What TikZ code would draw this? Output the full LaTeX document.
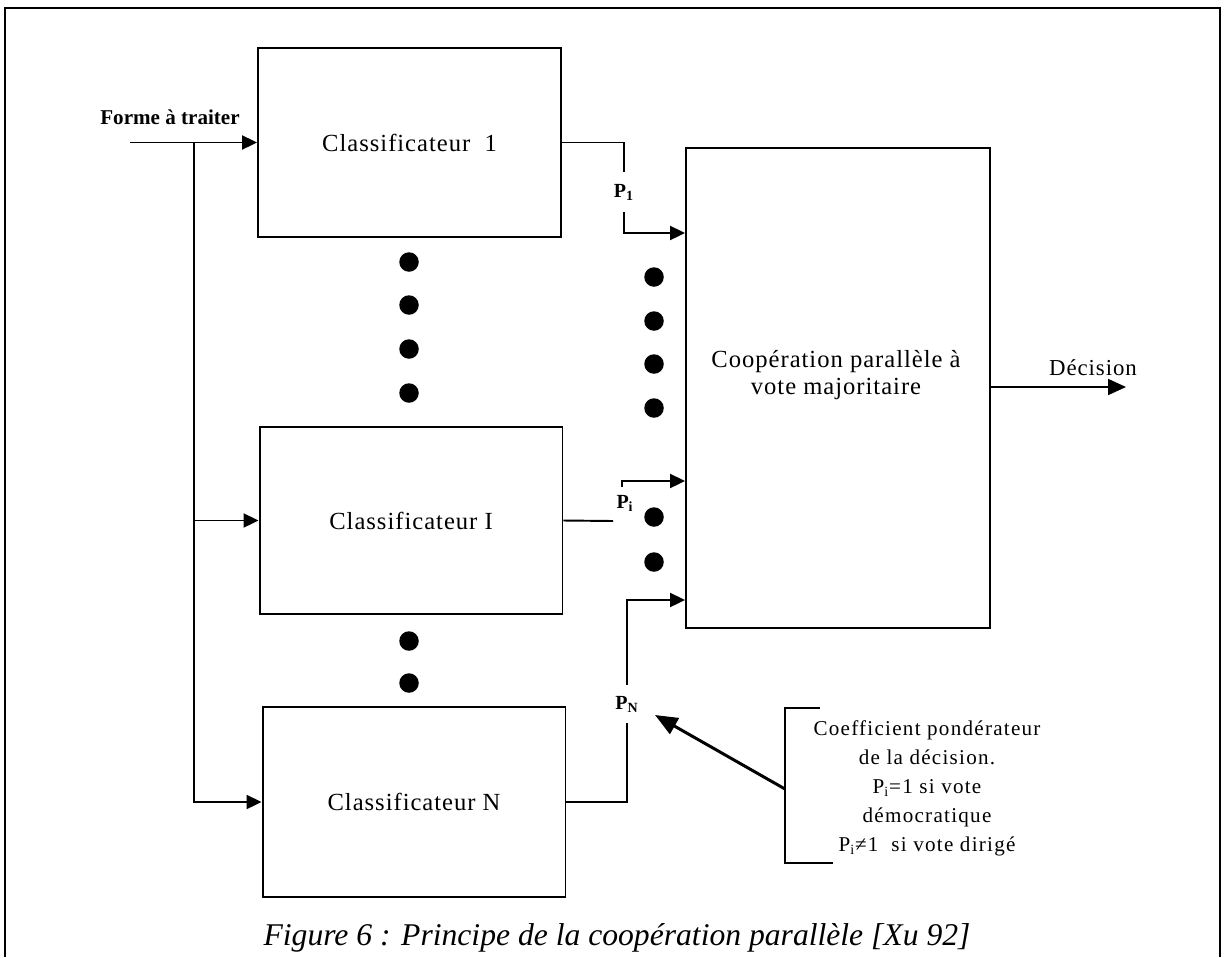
\documentclass[tikz,border=0pt]{standalone}
\usepackage{fontspec}
\setmainfont{Liberation Serif}
\newfontfamily\spaced{Liberation Serif}[LetterSpace=4]
\newfontfamily\widespaced{Liberation Serif}[LetterSpace=6]
\usetikzlibrary{arrows.meta}
\begin{document}
\begin{tikzpicture}[x=0.02cm, y=-0.02cm,
  classbox/.style={draw, line width=1.1pt, minimum width=6.06cm, minimum height=3.78cm, font=\spaced\fontsize{14}{16}\selectfont},
  dot/.style={circle, fill, inner sep=0pt, minimum size=0.39cm},
  lnk/.style={line width=1.1pt},
  arr/.style={line width=1.1pt, -{Triangle[length=0.3cm, width=0.28cm]}},
  plabel/.style={font=\bfseries\fontsize{11.4}{13}\selectfont, inner sep=0pt}]
\useasboundingbox (0,0) rectangle (1226,957);
\draw[line width=1.6pt] (5,957) -- (5,8) -- (1220,8) -- (1220,957);
\node[classbox] (box1) at (409.5,142.5) {Classificateur\ \ 1};
\node[classbox, minimum height=3.74cm] (boxI) at (411,520.5) {Classificateur I};
\node[classbox, minimum height=3.8cm] (boxN) at (414,802) {Classificateur N};
\node[draw, line width=1.1pt, minimum width=6.08cm, minimum height=9.6cm] (coop) at (838,388) {};
\node[align=center, font=\spaced\fontsize{14}{15}\selectfont] (cooptext) at (836,375) {Coopération parallèle à\\vote majoritaire};
% entree
\node[font=\bfseries\fontsize{12}{14}\selectfont] (forme) at (170,117) {Forme à traiter};
\coordinate (in) at (130,142.5);
\coordinate (bus) at (194,142.5);
\draw[arr] (in) -- (box1.west);
\draw[arr] (bus) |- (boxI.west);
\draw[arr] (bus) |- (boxN.west);
% sorties
\node[plabel, minimum height=0.8cm] (p1) at (624,192) {P\textsubscript{1}};
\coordinate (c1) at (coop.west |- 0,233);
\draw[lnk] (box1.east) -| (p1.north);
\draw[arr] (p1.south) |- (c1);
\node[plabel] (pi) at (625,503) {P\textsubscript{i}};
\coordinate (piend) at (613,521);
\coordinate (pistart) at (622,487);
\coordinate (ci) at (coop.west |- 0,481);
\draw[lnk] (boxI.east) -- (piend);
\draw[arr] (pistart) |- (ci);
\node[plabel, minimum height=0.76cm] (pn) at (627,704) {P\textsubscript{N}};
\coordinate (cn) at (coop.west |- 0,600);
\draw[lnk] (boxN.east) -| (pn.south);
\draw[arr] (pn.north) |- (cn);
\coordinate (dec) at (1126,387);
\draw[line width=1.1pt, -{Triangle[length=0.36cm, width=0.32cm]}] (coop.east |- dec) -- (dec);
\node[font=\spaced\fontsize{13}{15}\selectfont] (decision) at (1093,368) {Décision};
% points
\node[dot] (dl1) at (409,262) {};
\node[dot] (dl2) at (409,305) {};
\node[dot] (dl3) at (409,349) {};
\node[dot] (dl4) at (409,393) {};
\node[dot] (dl5) at (409,641) {};
\node[dot] (dl6) at (409,683) {};
\node[dot] (dr1) at (654,277) {};
\node[dot] (dr2) at (654,321) {};
\node[dot] (dr3) at (654,364) {};
\node[dot] (dr4) at (654,408) {};
\node[dot] (dr5) at (654,517) {};
\node[dot] (dr6) at (654,562) {};
% note
\node[align=center, font=\widespaced\fontsize{12}{16.5}\selectfont] (note) at (927,788) {Coefficient pondérateur\\de la décision.\\P\textsubscript{i}=1 si vote\\démocratique\\P\textsubscript{i}≠1\ \ si vote dirigé};
\coordinate (nt) at (820,708);
\coordinate (nb) at (833,863);
\coordinate (brk) at (785,789);
\coordinate (ptip) at (655,715);
\draw[lnk] (nt) -- (785,708) -- (785,863) -- (nb);
\draw[line width=1.7pt, -{Triangle[length=0.45cm, width=0.36cm]}] (brk) -- (ptip);
\node[font=\itshape\fontsize{18}{22}\selectfont] (caption) at (617,938) {Figure 6 : Principe de la coopération parallèle [Xu 92]};
\end{tikzpicture}
\end{document}
